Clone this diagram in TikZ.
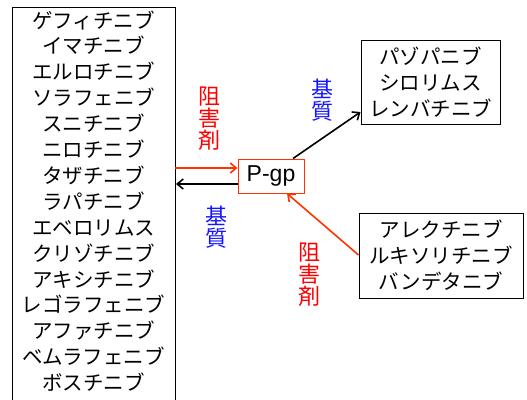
\documentclass[tikz,border=0pt]{standalone}
\usepackage{fontspec}
\setmainfont{Noto Sans CJK JP}
\newfontfamily\latinsans{Liberation Sans}
\usetikzlibrary{arrows.meta}
\definecolor{arrred}{RGB}{255,51,0}
\definecolor{lblred}{RGB}{255,0,0}
\definecolor{lblblue}{RGB}{20,20,255}
\tikzset{
  box/.style={draw=black, line width=1pt, inner sep=0pt, align=center},
  listtxt/.style={font=\fontsize{20.5}{25.9}\selectfont},
  arr/.style={line width=1.6pt, -{Straight Barb[length=6pt,width=10pt,line width=1.6pt]}},
  redarr/.style={arr, draw=arrred},
  blackarr/.style={arr, draw=black},
  vlabel/.style={font=\fontsize{22}{22}\selectfont, align=center, inner sep=0pt},
}
\begin{document}
\begin{tikzpicture}[x=1pt,y=-1pt]
\useasboundingbox (0,0) rectangle (527,399);
\begin{scope}
\clip (0,0) rectangle (527,399);
\draw[line width=1pt] (12,7) rectangle (175,410);
\node[listtxt, align=center] (list) at (93.5,201) {ゲフィチニブ\\イマチニブ\\エルロチニブ\\ソラフェニブ\\スニチニブ\\ニロチニブ\\タザチニブ\\ラパチニブ\\エベロリムス\\クリゾチニブ\\アキシチニブ\\レゴラフェニブ\\アファチニブ\\ベムラフェニブ\\ボスチニブ};
\end{scope}
\coordinate (lin) at (175,168);
\coordinate (lout) at (176,184);
\node[draw=arrred, line width=1pt, minimum width=66pt, minimum height=34pt, inner sep=0pt, font=\latinsans\fontsize{23}{25}\selectfont] (pgp) at (271,176) {P-gp};
\node[box, minimum width=139pt, minimum height=84pt, font=\fontsize{20.5}{25.9}\selectfont] (sub) at (430.5,82) {パゾパニブ\\シロリムス\\レンバチニブ};
\node[box, minimum width=164pt, minimum height=85pt, font=\fontsize{20.5}{25.9}\selectfont] (inh) at (441,255.5) {アレクチニブ\\ルキソリチニブ\\バンデタニブ};
\draw[redarr] (lin) -- (pgp.west |- lin);
\draw[blackarr] (pgp.west |- lout) -- (lout);
\draw[blackarr] (pgp.north -| 293,0) -- (sub.west |- 0,112);
\draw[redarr] (inh.west |- 0,255) -- (pgp.south -| 287,0);
\node[vlabel, text=lblred] (l1) at (209,119) {阻\\害\\剤};
\node[vlabel, text=lblblue] (l2) at (322,100) {基\\質};
\node[vlabel, text=lblblue] (l3) at (216,227) {基\\質};
\node[vlabel, text=lblred] (l4) at (309,275) {阻\\害\\剤};
\end{tikzpicture}
\end{document}
